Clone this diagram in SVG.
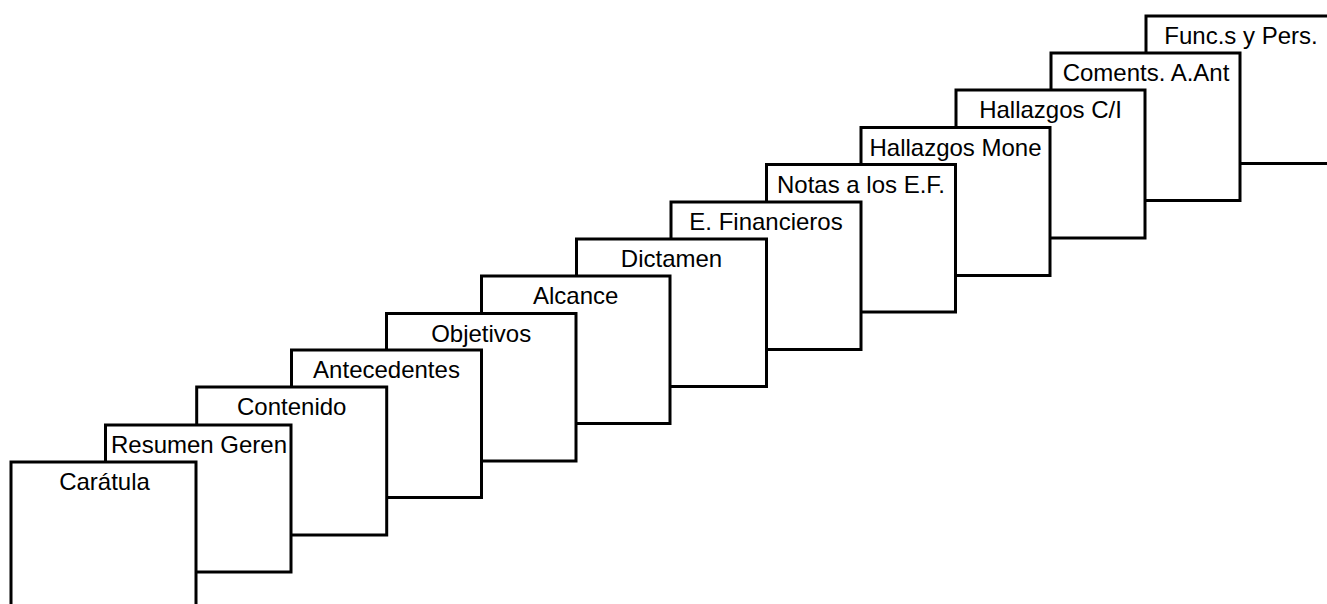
<svg xmlns="http://www.w3.org/2000/svg" width="1327" height="604" viewBox="0 0 1327 604">
<style>
.card rect{fill:#fff;stroke:#000;stroke-width:3}
.card text{font-family:"Liberation Sans",Arial,sans-serif;font-size:24px;fill:#000;text-anchor:middle}
</style>
<rect width="1327" height="604" fill="#fff"/>
<g id="card-func"><g class="card"><rect x="1146" y="16" width="189" height="147.5"/><text x="1241" y="44">Func.s y Pers.</text></g></g>
<g id="card-coments"><g class="card"><rect x="1051" y="53" width="189" height="147.5"/><text x="1146" y="81">Coments. A.Ant</text></g></g>
<g id="card-hallazgos-ci"><g class="card"><rect x="956" y="90" width="189" height="148"/><text x="1050.5" y="118">Hallazgos C/I</text></g></g>
<g id="card-hallazgos-mone"><g class="card"><rect x="861" y="127.5" width="189" height="148"/><text x="955.5" y="155.5">Hallazgos Mone</text></g></g>
<g id="card-notas"><g class="card"><rect x="766.5" y="164.5" width="189" height="147.5"/><text x="861" y="192.5">Notas a los E.F.</text></g></g>
<g id="card-efinancieros"><g class="card"><rect x="671" y="202" width="190" height="147.5"/><text x="766" y="230">E. Financieros</text></g></g>
<g id="card-dictamen"><g class="card"><rect x="576.5" y="239" width="190" height="147.5"/><text x="671.5" y="267">Dictamen</text></g></g>
<g id="card-alcance"><g class="card"><rect x="481.5" y="276" width="188.5" height="147.5"/><text x="575.7" y="304">Alcance</text></g></g>
<g id="card-objetivos"><g class="card"><rect x="386.5" y="313.5" width="189.5" height="147.5"/><text x="481.2" y="341.5">Objetivos</text></g></g>
<g id="card-antecedentes"><g class="card"><rect x="291.5" y="350" width="190" height="147.5"/><text x="386.5" y="378">Antecedentes</text></g></g>
<g id="card-contenido"><g class="card"><rect x="196.7" y="387" width="190" height="148"/><text x="291.7" y="415">Contenido</text></g></g>
<g id="card-resumen"><g class="card"><rect x="105.5" y="425" width="185.5" height="147"/><text x="199" y="452.5">Resumen Geren</text></g></g>
<g id="card-caratula"><g class="card"><rect x="11" y="462" width="185" height="148"/><text x="104.5" y="490">Carátula</text></g></g>
<g id="connectors"></g>
</svg>
